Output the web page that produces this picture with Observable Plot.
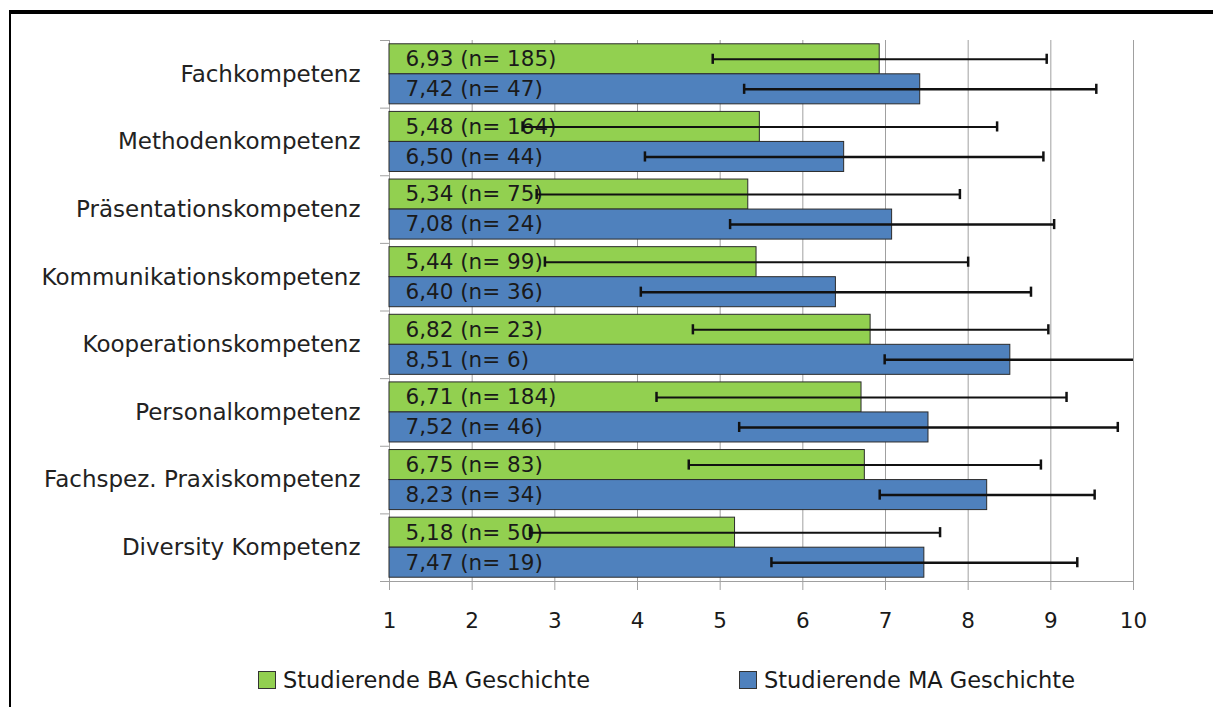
<!DOCTYPE html>
<html>
<head>
<meta charset="utf-8">
<script src="https://cdn.jsdelivr.net/npm/d3@7"></script>
<script src="https://cdn.jsdelivr.net/npm/@observablehq/plot@0.6"></script>
<style>
  html, body { margin: 0; padding: 0; background: #fff; }
  #wrap { position: relative; width: 1213px; height: 707px; overflow: hidden; font-family: "DejaVu Sans", sans-serif; }
  #frame { position: absolute; left: 9px; top: 10px; right: -10px; bottom: -10px; border-top: 4px solid #000; border-left: 2px solid #000; pointer-events: none; }
  #chart { position: absolute; left: 0; top: 0; }
  .legend { position: absolute; top: 667px; height: 26px; display: flex; align-items: center; font-size: 22.5px; color: #1a1a1a; white-space: nowrap; }
  .legend .sw { width: 16px; height: 16px; border: 1px solid #333; margin-right: 7px; }
</style>
</head>
<body>
<div id="wrap">
  <div id="chart"></div>
  <div id="frame"></div>
  <div id="legend"></div>
</div>
<script>
// ---- data ----
const categories = [
  "Fachkompetenz",
  "Methodenkompetenz",
  "Präsentationskompetenz",
  "Kommunikationskompetenz",
  "Kooperationskompetenz",
  "Personalkompetenz",
  "Fachspez. Praxiskompetenz",
  "Diversity Kompetenz"
];
const seriesNames = ["Studierende BA Geschichte", "Studierende MA Geschichte"];
const seriesColors = ["#92D050", "#4F81BD"];

const baMean = [6.93, 5.48, 5.34, 5.44, 6.82, 6.71, 6.75, 5.18];
const baN    = [185, 164, 75, 99, 23, 184, 83, 50];
const baSD   = [2.02, 2.87, 2.56, 2.56, 2.15, 2.48, 2.13, 2.48];

const maMean = [7.42, 6.50, 7.08, 6.40, 8.51, 7.52, 8.23, 7.47];
const maN    = [47, 44, 24, 36, 6, 46, 34, 19];
const maSD   = [2.13, 2.41, 1.96, 2.36, 1.52, 2.29, 1.30, 1.85];

const xTicks = [1, 2, 3, 4, 5, 6, 7, 8, 9, 10];

// ---- layout helpers (band positions in category units) ----
const baseline = xTicks[0];
const pad = 0.056;   // gap between category groups
const capHalf = 0.075;

const fmt = v => d3.format(".2f")(v).replace(".", ",");

const rows = categories.flatMap((c, i) => [
  {cat: c, s: seriesNames[0], mean: baMean[i], n: baN[i], sd: baSD[i], y1: i + pad, y2: i + 0.5, w: 2},
  {cat: c, s: seriesNames[1], mean: maMean[i], n: maN[i], sd: maSD[i], y1: i + 0.5, y2: i + 1 - pad, w: 2.5}
]).map(d => ({...d, mid: (d.y1 + d.y2) / 2, label: `${fmt(d.mean)} (n= ${d.n})`}));

const caps = rows.flatMap(d => [
  {...d, x: d.mean - d.sd},
  {...d, x: d.mean + d.sd}
]);

const H = 650;
const plot = Plot.plot({
  width: 1213,
  height: H,
  marginLeft: 389,
  marginRight: 80,
  marginTop: 40,
  marginBottom: H - 581,
  style: {fontFamily: "DejaVu Sans, sans-serif", fontSize: "21px", background: "transparent", overflow: "visible"},
  x: {domain: [xTicks[0], xTicks[xTicks.length - 1]]},
  y: {domain: [0, categories.length], reverse: true},
  color: {domain: seriesNames, range: seriesColors},
  marks: [
    Plot.gridX(xTicks, {stroke: "#a0a0a0", strokeOpacity: 1, strokeWidth: 1}),
    Plot.axisX({ticks: xTicks, tickSize: 9, tickPadding: 22, stroke: "#a0a0a0", fill: "#1a1a1a", fontSize: 21.5, tickFormat: d => String(d), label: null}),
    Plot.ruleY([categories.length], {stroke: "#a0a0a0"}),
    Plot.axisY({ticks: d3.range(0, categories.length + 1), tickSize: 9, tickFormat: () => "", stroke: "#a0a0a0", label: null}),
    Plot.axisY({ticks: categories.map((_, i) => i + 0.5), tickSize: 0, tickPadding: 29,
      tickFormat: v => categories[Math.floor(v)], fill: "#222", fontSize: 23, label: null}),
    Plot.rect(rows, {x1: () => baseline, x2: "mean", y1: "y1", y2: "y2", fill: "s", stroke: "#2b2b2b", strokeWidth: 1}),
    Plot.text(rows, {x: () => baseline, y: "mid", text: "label", textAnchor: "start", dx: 16, fill: "#1a1a1a", fontSize: 21.5}),
    Plot.ruleY(rows, {y: "mid", x1: d => d.mean - d.sd, x2: d => d.mean + d.sd, stroke: "#111", strokeWidth: "w", clip: true}),
    Plot.ruleX(caps, {x: "x", y1: d => d.mid - capHalf, y2: d => d.mid + capHalf, stroke: "#111", strokeWidth: 2.5, clip: true})
  ]
});
document.getElementById("chart").appendChild(plot);

// ---- legend ----
const legendPos = [258, 739];
const legend = document.getElementById("legend");
seriesNames.forEach((name, i) => {
  const item = document.createElement("div");
  item.className = "legend";
  item.style.left = legendPos[i] + "px";
  const sw = document.createElement("div");
  sw.className = "sw";
  sw.style.background = seriesColors[i];
  const t = document.createElement("span");
  t.textContent = name;
  item.appendChild(sw);
  item.appendChild(t);
  legend.appendChild(item);
});
</script>
</body>
</html>
